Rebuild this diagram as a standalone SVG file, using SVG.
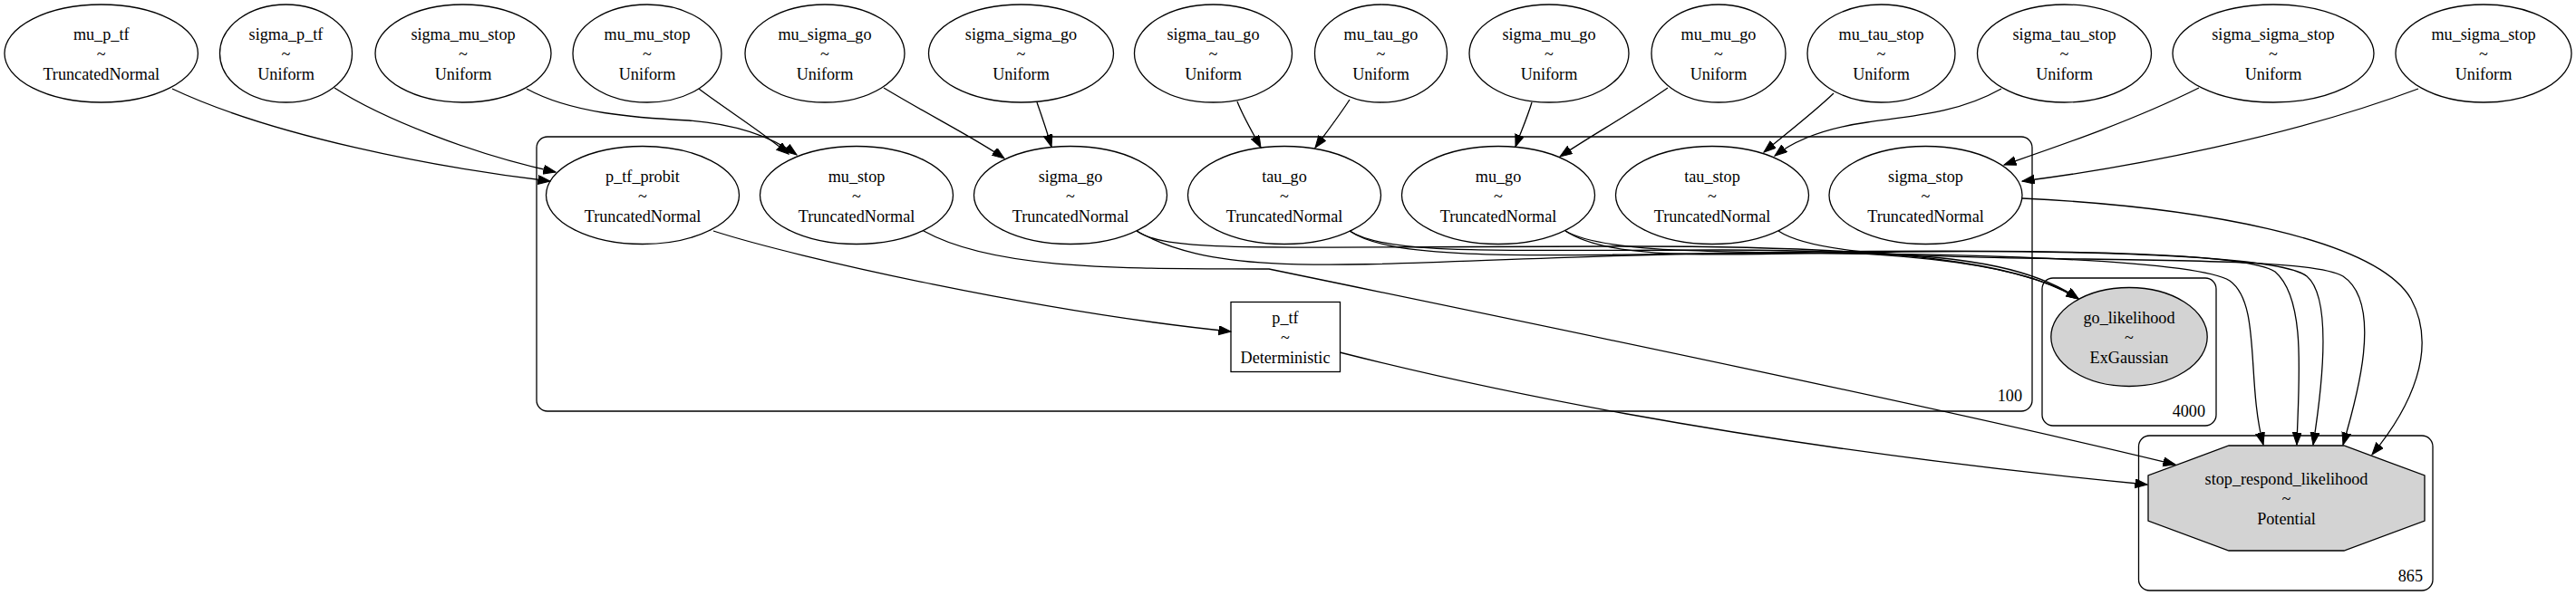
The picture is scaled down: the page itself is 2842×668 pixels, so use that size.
<svg xmlns="http://www.w3.org/2000/svg" width="2842" height="668" viewBox="0 0 2842 668">
<style>
.n{fill:none;stroke:#000;stroke-width:1.3}
.o{fill:#d3d3d3;stroke:#000;stroke-width:1.3}
.p{fill:none;stroke:#000;stroke-width:1.3}
.e{fill:none;stroke:#000;stroke-width:1.3;marker-end:url(#ah)}
text{font-family:"Liberation Serif","Times New Roman",serif;font-size:18.2px;fill:#000}
.c{text-anchor:middle}
.r{text-anchor:end}
</style>
<defs>
<marker id="ah" markerUnits="userSpaceOnUse" markerWidth="15" markerHeight="12" refX="13.5" refY="5" orient="auto">
<path d="M0,0 L13.5,5 L0,10 z" fill="#000" stroke="#000" stroke-width="1"/>
</marker>
</defs>
<rect width="2842" height="668" fill="#fff"/>
<g id="plates">
<g id="plate_100"><rect class="p" x="592" y="151" width="1650" height="303" rx="12"/><text class="r" x="2231" y="443">100</text></g>
<g id="plate_4000"><rect class="p" x="2253" y="307" width="192" height="163" rx="12"/><text class="r" x="2433" y="460">4000</text></g>
<g id="plate_865"><rect class="p" x="2359.5" y="481" width="324.5" height="171" rx="12"/><text class="r" x="2673" y="642">865</text></g>
</g>
<g id="connectors">
<path class="e" d="M190,98 C300,150 480,185 607,200"/>
<path class="e" d="M369,97 C420,130 520,170 613,190"/>
<path class="e" d="M581,98 C630,125 700,130 760,133 C810,137 850,150 879,171"/>
<path class="e" d="M771,98 C800,120 840,145 870,170"/>
<path class="e" d="M975,97 C1030,130 1080,155 1108,175"/>
<path class="e" d="M1144,113 C1150,130 1155,145 1160,162"/>
<path class="e" d="M1365,112 C1372,130 1383,148 1391,163"/>
<path class="e" d="M1489,110 C1476,130 1462,148 1451,163"/>
<path class="e" d="M1690,113 C1685,130 1677,148 1672,162"/>
<path class="e" d="M1840,97 C1800,125 1755,150 1721,173"/>
<path class="e" d="M2023,103 C2000,125 1970,148 1946,168"/>
<path class="e" d="M2208,98 C2160,125 2110,128 2060,135 C2010,142 1980,155 1958,172"/>
<path class="e" d="M2426,97 C2350,135 2260,165 2211,182"/>
<path class="e" d="M2668,98 C2530,150 2350,185 2231,200"/>
<path class="e" d="M787,255 C880,285 1150,345 1358,366"/>
<path class="e" d="M1478,389 C1600,420 1900,490 2369,535"/>
<path class="e" d="M1019,255 C1100,300 1250,296 1400,297 C1700,359 2150,452 2400,513"/>
<path class="e" d="M1254,255 C1290,280 1400,272 1800,272 C2100,272 2230,290 2293,330"/>
<path class="e" d="M1489,255 C1530,282 1650,276 1900,276 C2120,276 2240,295 2293,330"/>
<path class="e" d="M1727,255 C1770,280 1900,278 2050,280 C2180,282 2250,300 2293,330"/>
<path class="e" d="M1254,255 C1350,310 1500,290 1800,282 C2100,275 2420,285 2460,310 C2495,335 2478,420 2497,491"/>
<path class="e" d="M1489,255 C1540,290 1700,282 2000,278 C2300,275 2480,280 2510,300 C2545,330 2536,420 2534,491"/>
<path class="e" d="M1727,255 C1780,290 1900,280 2100,278 C2350,276 2520,285 2545,305 C2575,330 2560,440 2552,491"/>
<path class="e" d="M1962,255 C2000,280 2100,284 2300,286 C2450,288 2560,290 2585,305 C2630,335 2600,440 2585,491"/>
<path class="e" d="M2231,219 C2420,228 2620,262 2660,330 C2690,385 2660,450 2617,502"/>
</g>
<g id="mu_p_tf"><ellipse class="n" cx="111.7" cy="59" rx="106.7" ry="54"/><text class="c" x="111.7" y="44">mu_p_tf</text><text class="c" x="111.7" y="66">~</text><text class="c" x="111.7" y="88">TruncatedNormal</text></g>
<g id="sigma_p_tf"><ellipse class="n" cx="315.5" cy="59" rx="73" ry="54"/><text class="c" x="315.5" y="44">sigma_p_tf</text><text class="c" x="315.5" y="66">~</text><text class="c" x="315.5" y="88">Uniform</text></g>
<g id="sigma_mu_stop"><ellipse class="n" cx="511" cy="59" rx="97" ry="54"/><text class="c" x="511" y="44">sigma_mu_stop</text><text class="c" x="511" y="66">~</text><text class="c" x="511" y="88">Uniform</text></g>
<g id="mu_mu_stop"><ellipse class="n" cx="714" cy="59" rx="82" ry="54"/><text class="c" x="714" y="44">mu_mu_stop</text><text class="c" x="714" y="66">~</text><text class="c" x="714" y="88">Uniform</text></g>
<g id="mu_sigma_go"><ellipse class="n" cx="910" cy="59" rx="88" ry="54"/><text class="c" x="910" y="44">mu_sigma_go</text><text class="c" x="910" y="66">~</text><text class="c" x="910" y="88">Uniform</text></g>
<g id="sigma_sigma_go"><ellipse class="n" cx="1126.5" cy="59" rx="102" ry="54"/><text class="c" x="1126.5" y="44">sigma_sigma_go</text><text class="c" x="1126.5" y="66">~</text><text class="c" x="1126.5" y="88">Uniform</text></g>
<g id="sigma_tau_go"><ellipse class="n" cx="1338.5" cy="59" rx="87" ry="54"/><text class="c" x="1338.5" y="44">sigma_tau_go</text><text class="c" x="1338.5" y="66">~</text><text class="c" x="1338.5" y="88">Uniform</text></g>
<g id="mu_tau_go"><ellipse class="n" cx="1523.5" cy="59" rx="73" ry="54"/><text class="c" x="1523.5" y="44">mu_tau_go</text><text class="c" x="1523.5" y="66">~</text><text class="c" x="1523.5" y="88">Uniform</text></g>
<g id="sigma_mu_go"><ellipse class="n" cx="1709" cy="59" rx="88" ry="54"/><text class="c" x="1709" y="44">sigma_mu_go</text><text class="c" x="1709" y="66">~</text><text class="c" x="1709" y="88">Uniform</text></g>
<g id="mu_mu_go"><ellipse class="n" cx="1896" cy="59" rx="74" ry="54"/><text class="c" x="1896" y="44">mu_mu_go</text><text class="c" x="1896" y="66">~</text><text class="c" x="1896" y="88">Uniform</text></g>
<g id="mu_tau_stop"><ellipse class="n" cx="2075.5" cy="59" rx="81.5" ry="54"/><text class="c" x="2075.5" y="44">mu_tau_stop</text><text class="c" x="2075.5" y="66">~</text><text class="c" x="2075.5" y="88">Uniform</text></g>
<g id="sigma_tau_stop"><ellipse class="n" cx="2277.5" cy="59" rx="96" ry="54"/><text class="c" x="2277.5" y="44">sigma_tau_stop</text><text class="c" x="2277.5" y="66">~</text><text class="c" x="2277.5" y="88">Uniform</text></g>
<g id="sigma_sigma_stop"><ellipse class="n" cx="2508" cy="59" rx="111" ry="54"/><text class="c" x="2508" y="44">sigma_sigma_stop</text><text class="c" x="2508" y="66">~</text><text class="c" x="2508" y="88">Uniform</text></g>
<g id="mu_sigma_stop"><ellipse class="n" cx="2740" cy="59" rx="97" ry="54"/><text class="c" x="2740" y="44">mu_sigma_stop</text><text class="c" x="2740" y="66">~</text><text class="c" x="2740" y="88">Uniform</text></g>
<g id="p_tf_probit"><ellipse class="n" cx="709" cy="215.5" rx="106.5" ry="54"/><text class="c" x="709" y="200.5">p_tf_probit</text><text class="c" x="709" y="222.5">~</text><text class="c" x="709" y="244.5">TruncatedNormal</text></g>
<g id="mu_stop"><ellipse class="n" cx="945" cy="215.5" rx="106.5" ry="54"/><text class="c" x="945" y="200.5">mu_stop</text><text class="c" x="945" y="222.5">~</text><text class="c" x="945" y="244.5">TruncatedNormal</text></g>
<g id="sigma_go"><ellipse class="n" cx="1181" cy="215.5" rx="106.5" ry="54"/><text class="c" x="1181" y="200.5">sigma_go</text><text class="c" x="1181" y="222.5">~</text><text class="c" x="1181" y="244.5">TruncatedNormal</text></g>
<g id="tau_go"><ellipse class="n" cx="1417" cy="215.5" rx="106.5" ry="54"/><text class="c" x="1417" y="200.5">tau_go</text><text class="c" x="1417" y="222.5">~</text><text class="c" x="1417" y="244.5">TruncatedNormal</text></g>
<g id="mu_go"><ellipse class="n" cx="1653" cy="215.5" rx="106.5" ry="54"/><text class="c" x="1653" y="200.5">mu_go</text><text class="c" x="1653" y="222.5">~</text><text class="c" x="1653" y="244.5">TruncatedNormal</text></g>
<g id="tau_stop"><ellipse class="n" cx="1889" cy="215.5" rx="106.5" ry="54"/><text class="c" x="1889" y="200.5">tau_stop</text><text class="c" x="1889" y="222.5">~</text><text class="c" x="1889" y="244.5">TruncatedNormal</text></g>
<g id="sigma_stop"><ellipse class="n" cx="2124.5" cy="215.5" rx="106.5" ry="54"/><text class="c" x="2124.5" y="200.5">sigma_stop</text><text class="c" x="2124.5" y="222.5">~</text><text class="c" x="2124.5" y="244.5">TruncatedNormal</text></g>
<g id="p_tf"><rect class="n" x="1358" y="333.5" width="120.5" height="77"/><text class="c" x="1418" y="357">p_tf</text><text class="c" x="1418" y="379">~</text><text class="c" x="1418" y="401">Deterministic</text></g>
<g id="go_likelihood"><ellipse class="o" cx="2349" cy="372" rx="86.2" ry="54.5"/><text class="c" x="2349" y="357">go_likelihood</text><text class="c" x="2349" y="379">~</text><text class="c" x="2349" y="401">ExGaussian</text></g>
<g id="stop_respond_likelihood"><polygon class="o" points="2459,492 2586,492 2675,525 2675,575 2586,608 2459,608 2370,575 2370,525"/><text class="c" x="2522.5" y="535">stop_respond_likelihood</text><text class="c" x="2522.5" y="557">~</text><text class="c" x="2522.5" y="579">Potential</text></g>
</svg>
